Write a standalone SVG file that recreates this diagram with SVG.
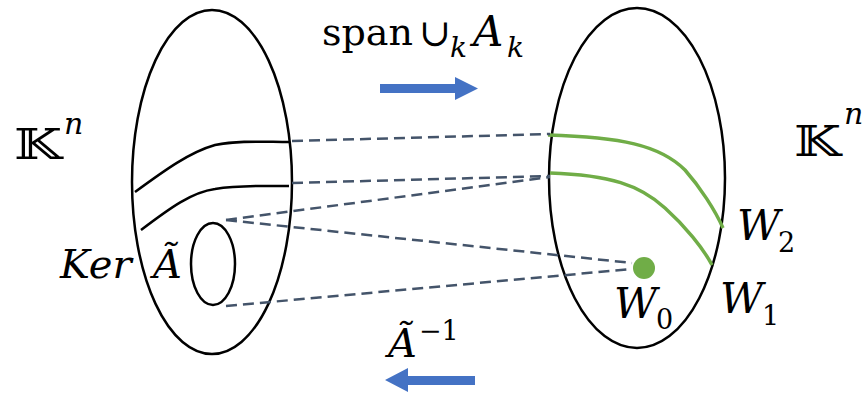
<svg xmlns="http://www.w3.org/2000/svg" width="867" height="395" viewBox="0 0 867 395">
<style>
.outline{fill:none;stroke:#000;stroke-width:2.5}
.dash{fill:none;stroke:#44546A;stroke-width:2.5;stroke-dasharray:11 6}
.green{fill:none;stroke:#70AD47;stroke-width:3.5}
.blue{fill:#4472C4}
.t{font-family:"DejaVu Serif","Liberation Serif",serif;fill:#000}
.i{font-style:italic}
</style>
<rect width="867" height="395" fill="#fff"/>
<g id="left-space">
<ellipse class="outline" cx="212" cy="182" rx="80" ry="172"/>
<path class="outline" d="M135,192 C165,170 190,152 215,145 C240,140 265,142 289,142"/>
<path class="outline" d="M141,230 C170,208 192,192 215,189 C240,185 265,186 289,186"/>
</g>
<g id="kernel">
<ellipse class="outline" cx="213" cy="264" rx="22" ry="41"/>
</g>
<g id="right-space">
<ellipse class="outline" cx="637" cy="178" rx="88" ry="170"/>
<path class="green" d="M548,135 C620,137 660,145 685,170 C700,187 715,210 723,228"/>
<path class="green" d="M550,173 C610,175 640,185 665,208 C685,226 703,248 712,265"/>
</g>
<g id="W0-point">
<circle cx="644" cy="268" r="11" fill="#70AD47"/>
</g>
<g id="connectors">
<line class="dash" x1="292" y1="141" x2="550" y2="134"/>
<line class="dash" x1="292" y1="183" x2="550" y2="176"/>
<line class="dash" x1="226" y1="220" x2="550" y2="177"/>
<line class="dash" x1="226" y1="220" x2="632" y2="263"/>
<line class="dash" x1="226" y1="306" x2="632" y2="269"/>
<polygon class="blue" points="380,84 455,84 455,77 478,88.5 455,100 455,93 380,93"/>
<polygon class="blue" points="475,376 408,376 408,368 385,380 408,392 408,385 475,385"/>
</g>
<g id="labels">
<text class="t" x="322" y="45" font-size="38">span</text>
<text class="t" x="419" y="46" font-size="38">∪</text>
<text class="t i" x="450" y="57" font-size="28">k</text>
<text class="t i" x="473" y="46" font-size="42">A</text>
<text class="t i" x="507" y="57" font-size="28">k</text>
<text class="t" x="14" y="159" font-size="42" textLength="48" lengthAdjust="spacingAndGlyphs">𝕂</text>
<text class="t i" x="64" y="134" font-size="30">n</text>
<text class="t" x="794" y="156" font-size="42" textLength="47" lengthAdjust="spacingAndGlyphs">𝕂</text>
<text class="t i" x="844" y="124" font-size="30">n</text>
<text class="t i" x="60" y="278" font-size="40">Ker</text>
<text class="t i" x="153" y="278" font-size="40">Ã</text>
<text class="t i" x="388" y="357" font-size="40">Ã</text>
<text class="t" x="419" y="340" font-size="27">−1</text>
<text class="t i" x="737" y="240" font-size="42">W</text>
<text class="t" x="778" y="252" font-size="27">2</text>
<text class="t i" x="720" y="313" font-size="42">W</text>
<text class="t" x="762" y="325" font-size="27">1</text>
<text class="t i" x="614" y="318" font-size="42">W</text>
<text class="t" x="656" y="329" font-size="27">0</text>
</g>
</svg>
